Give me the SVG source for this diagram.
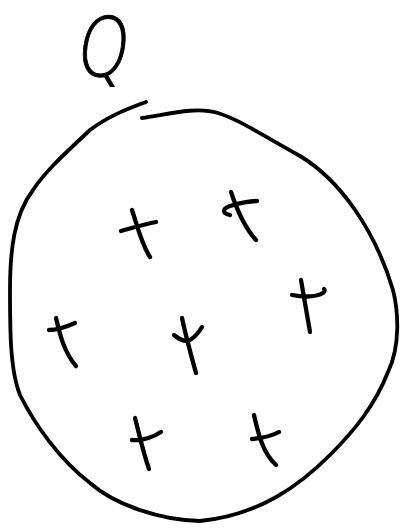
<svg xmlns="http://www.w3.org/2000/svg" width="401" height="530" viewBox="0 0 401 530">
<style>
.ink{fill:none;stroke:#000;stroke-linecap:round;stroke-linejoin:round}
.blob{stroke-width:3.8}
.cross{stroke-width:4.3}
.lbl{font-family:"DejaVu Sans","Liberation Sans",sans-serif;font-weight:200;font-size:82px;fill:#000;stroke:#000;stroke-width:1}
</style>
<rect width="401" height="530" fill="#fff"/>
<g id="label-Q">
<text class="lbl" x="0" y="0" text-anchor="middle" transform="translate(100,76) skewX(-8) scale(0.8,1)">Q</text>
</g>
<g id="set">
<path class="ink blob" d="M142,118 C165,115 195,106 218,113 C240,120 260,134 300,156 C340,180 375,230 393,290 C398,310 401,345 388,372 C375,405 355,430 330,455 C300,485 260,515 200,521 C160,520 115,505 90,483 C60,460 35,425 20,395 C10,370 10,330 10,290 C10,250 14,215 33,190 C45,172 60,158 90,130 C110,115 130,108 146,102"/>
</g>
<g id="elements">
<g id="p1"><path class="ink cross" d="M132,210 C137,225 142,245 150,257 M121,231 C132,228 145,224 156,222"/></g>
<g id="p2"><path class="ink cross" d="M231,192 C237,210 245,228 256,240 M230,215 C222,213 222,209 230,206 C240,203 250,201 257,201"/></g>
<g id="p3"><path class="ink cross" d="M301,280 C304,298 307,315 310,332 M292,295 C303,297 316,297 323,293 C325,291 325,290 324,289"/></g>
<g id="p4"><path class="ink cross" d="M56,318 C60,335 64,352 76,366 M49,330 C58,330 66,327 75,323"/></g>
<g id="p5"><path class="ink cross" d="M182,318 C186,337 191,355 196,373 M174,335 C180,340 186,342 190,340 C195,337 199,332 202,327"/></g>
<g id="p6"><path class="ink cross" d="M135,418 C139,433 143,452 149,469 M132,440 C142,441 153,437 161,432"/></g>
<g id="p7"><path class="ink cross" d="M254,415 C258,432 262,452 276,465 M252,439 C262,438 272,436 279,432"/></g>
</g>
</svg>
